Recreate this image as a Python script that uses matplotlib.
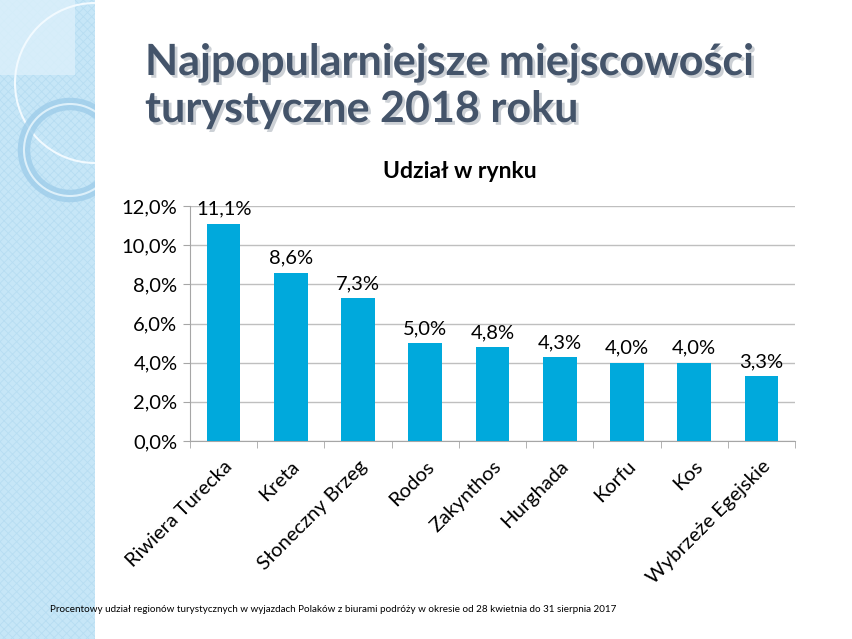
import numpy as np
import matplotlib.pyplot as plt
import matplotlib.patches as mpatches
import matplotlib.patheffects as pe
from matplotlib.ticker import FixedLocator, FuncFormatter

places = ["Riwiera Turecka", "Kreta", "Słoneczny Brzeg", "Rodos", "Zakynthos",
          "Hurghada", "Korfu", "Kos", "Wybrzeże Egejskie"]
share = [11.1, 8.6, 7.3, 5.0, 4.8, 4.3, 4.0, 4.0, 3.3]
y_ticks = [0, 2, 4, 6, 8, 10, 12]

FONT = ["Lato", "DejaVu Sans"]
plt.rcParams['font.family'] = FONT
plt.rcParams['hatch.color'] = "#b3dbf1"
plt.rcParams['hatch.linewidth'] = 0.6

fig = plt.figure(figsize=(8.52, 6.39), dpi=100)

# left decorative strip, all drawn in its own axes (pixel coords)
deco = fig.add_axes([0, 0, 95 / 852, 1])
deco.set_xlim(0, 95)
deco.set_ylim(639, 0)
deco.axis("off")
deco.add_patch(mpatches.Rectangle((0, 0), 95, 639, facecolor="#c6e6f7", edgecolor="none"))
deco.add_patch(mpatches.Rectangle((0, 0), 95, 639, facecolor="none", hatch="xxxx",
                                  edgecolor="#b7ddf2", lw=0))
deco.add_patch(mpatches.Rectangle((0, 0), 75, 75, facecolor="#dcf0fb", edgecolor="none", alpha=0.8))
deco.add_patch(mpatches.Circle((95, 83), 80, fill=False, edgecolor="#f2faff", lw=1.5))
deco.add_patch(mpatches.Circle((70, 150), 46, fill=False, edgecolor="#9fcdea", lw=9, alpha=0.8))
deco.add_patch(mpatches.Circle((70, 150), 46, fill=False, edgecolor="#ddf0fa", lw=1.5))

# slide title
shadow = [pe.withSimplePatchShadow(offset=(2, -2), shadow_rgbFace="#9aa3ad", alpha=0.5)]
fig.text(145 / 852, 1 - 75 / 639, "Najpopularniejsze miejscowości", fontsize=31,
         fontweight="bold", color="#44546a", ha="left", va="baseline", path_effects=shadow)
fig.text(145 / 852, 1 - 122 / 639, "turystyczne 2018 roku", fontsize=31,
         fontweight="bold", color="#44546a", ha="left", va="baseline", path_effects=shadow)

ax = fig.add_axes([190 / 852, 1 - 441 / 639, 605 / 852, 235 / 639])
x = np.arange(len(places))
ax.bar(x, share, width=0.5, color="#00a9dc", zorder=3)
for xi, v in zip(x, share):
    ax.text(xi, v + 0.3, f"{v:.1f}%".replace(".", ","), ha="center", va="bottom",
            fontsize=14.5, color="#000000", zorder=4)

ax.set_xlim(-0.5, len(places) - 0.5)
ax.set_ylim(0, 12)
ax.set_yticks(y_ticks)
ax.yaxis.set_major_formatter(FuncFormatter(lambda v, p: f"{v:.1f}%".replace(".", ",")))
ax.grid(axis="y", color="#bfbfbf", lw=1, zorder=0)
ax.set_axisbelow(True)
for s in ["top", "right"]:
    ax.spines[s].set_visible(False)
ax.spines["left"].set_color("#a6a6a6")
ax.spines["bottom"].set_color("#a6a6a6")
ax.tick_params(axis="y", length=5, color="#a6a6a6", labelsize=14.5, pad=4)
ax.set_xticks(x)
ax.set_xticklabels(places, rotation=45, ha="right", rotation_mode="anchor", fontsize=14.5)
ax.tick_params(axis="x", which="major", length=0, pad=12)
ax.xaxis.set_minor_locator(FixedLocator(np.arange(len(places) + 1) - 0.5))
ax.tick_params(axis="x", which="minor", length=5, color="#a6a6a6")

fig.text(460 / 852, 1 - 172 / 639, "Udział w rynku", fontsize=16.5, fontweight="bold",
         ha="center", va="center")
fig.text(50 / 852, 1 - 609 / 639,
         "Procentowy udział regionów turystycznych w wyjazdach Polaków z biurami podróży w okresie od 28 kwietnia do 31 sierpnia 2017",
         fontsize=7.1, ha="left", va="center")

fig.savefig("out.png", dpi=100)
